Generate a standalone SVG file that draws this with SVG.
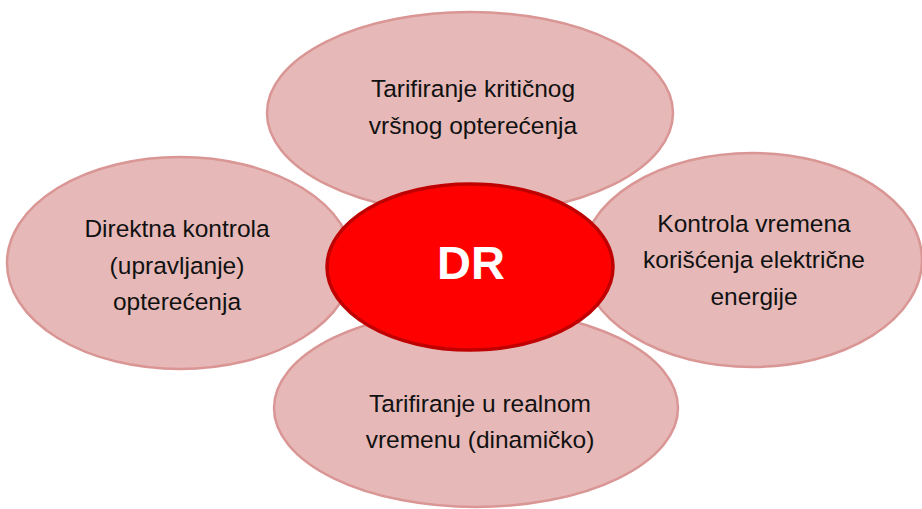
<svg xmlns="http://www.w3.org/2000/svg" width="922" height="509" viewBox="0 0 922 509">
<style>
.petal{fill:#E6B9B8;stroke:#D99694;stroke-width:2.5}
.core{fill:#FF0000;stroke:#C00000;stroke-width:3.5}
.lbl{font-family:"Liberation Sans",Arial,sans-serif;font-size:24.5px;fill:#111;text-anchor:middle}
.dr{font-family:"Liberation Sans",Arial,sans-serif;font-size:47px;font-weight:bold;fill:#fff;text-anchor:middle}
</style>
<rect width="922" height="509" fill="#fff"/>
<g id="connectors"></g>
<g id="node-left">
<ellipse class="petal" cx="180" cy="263" rx="173" ry="106"/>
<text class="lbl" x="177" y="237">Direktna kontrola</text>
<text class="lbl" x="177" y="274">(upravljanje)</text>
<text class="lbl" x="177" y="310">opterećenja</text>
</g>
<g id="node-right">
<ellipse class="petal" cx="752" cy="260" rx="170" ry="107"/>
<text class="lbl" x="754" y="232">Kontrola vremena</text>
<text class="lbl" x="754" y="268">korišćenja električne</text>
<text class="lbl" x="754" y="305">energije</text>
</g>
<g id="node-top">
<ellipse class="petal" cx="470" cy="113" rx="203" ry="101"/>
<text class="lbl" x="473" y="97">Tarifiranje kritičnog</text>
<text class="lbl" x="473" y="134">vršnog opterećenja</text>
</g>
<g id="node-bottom">
<ellipse class="petal" cx="476" cy="408" rx="202" ry="99"/>
<text class="lbl" x="480" y="412">Tarifiranje u realnom</text>
<text class="lbl" x="480" y="448">vremenu (dinamičko)</text>
</g>
<g id="node-center">
<ellipse class="core" cx="470" cy="267" rx="143" ry="83"/>
<text class="dr" x="471" y="279">DR</text>
</g>
</svg>
